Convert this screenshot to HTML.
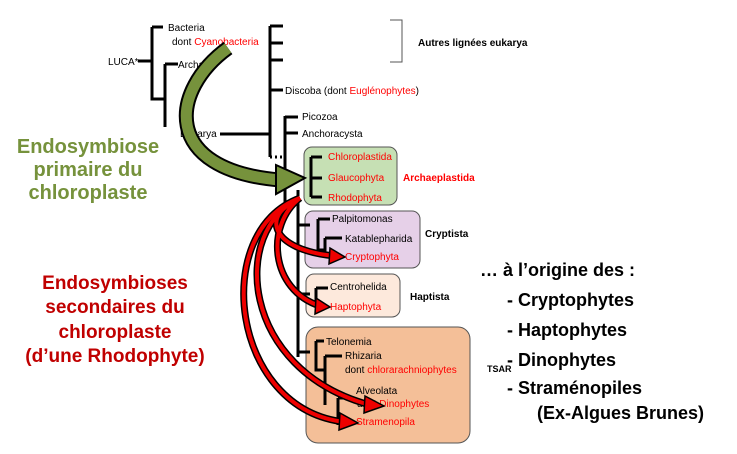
<!DOCTYPE html>
<html><head><meta charset="utf-8"><style>
body{margin:0;background:#fff}
svg{display:block;font-family:"Liberation Sans",sans-serif}
.t{font-size:10px;fill:#000}.r{fill:#f00}
.b{font-weight:bold}
</style></head><body>
<svg width="737" height="454" viewBox="0 0 737 454">
<rect x="304" y="147" width="93" height="58" rx="8" fill="#c6e0b4" stroke="#555"/>
<rect x="305" y="211" width="115" height="57" rx="8" fill="#e6d0e8" stroke="#555"/>
<rect x="306" y="274" width="94" height="43" rx="8" fill="#fde9dc" stroke="#555"/>
<rect x="306" y="327" width="164" height="116" rx="12" fill="#f4bf98" stroke="#555"/>
<g stroke="#000" stroke-width="3" fill="none">
<path d="M138 61H152M152 27V99H165M152 27H163M165 64V127M165 64H178M220 134H270M270 26V157M270 26H283M270 43H283M270 60H283M270 90H283"/>
<path d="M285 116V205M285 117H298M285 133H298M298 190V357M298 225H310M298 294H310M298 352H310"/>
<path d="M311 157V197M311 157H322M311 178H322M311 197H322"/>
<path d="M318 219V250H325M318 219H330M325 238V258M325 238H342"/>
<path d="M316 288V302H318M316 288H328"/>
<path d="M316 341V370H325M316 341H324M325 356V405M325 356H342M338 398V425M338 398H352"/>
</g>
<path d="M270 157H285" stroke="#000" stroke-width="3" stroke-dasharray="2 3"/>
<path d="M390 20H402V62H390" stroke="#555" stroke-width="1" fill="none"/>
<g class="t">
<text x="108" y="65" class="t">LUCA*</text>
<text x="168" y="31" class="t">Bacteria</text>
<text x="172" y="45" class="t">dont <tspan class="r">Cyanobacteria</tspan></text>
<text x="178" y="68" class="t">Archaea</text>
<text x="180" y="137" class="t">Eukarya</text>
<text x="285" y="94" class="t">Discoba (dont <tspan class="r">Euglénophytes</tspan>)</text>
<text x="302" y="120" class="t">Picozoa</text>
<text x="302" y="137" class="t">Anchoracysta</text>
<text x="418" y="46" class="t b">Autres lignées eukarya</text>
<text x="328" y="160" class="t r">Chloroplastida</text>
<text x="328" y="181" class="t r">Glaucophyta</text>
<text x="328" y="201" class="t r">Rhodophyta</text>
<text x="403" y="181" class="t r b">Archaeplastida</text>
<text x="332" y="222" class="t">Palpitomonas</text>
<text x="345" y="242" class="t">Katablepharida</text>
<text x="345" y="260" class="t r">Cryptophyta</text>
<text x="425" y="237" class="t b">Cryptista</text>
<text x="330" y="290" class="t">Centrohelida</text>
<text x="330" y="310" class="t r">Haptophyta</text>
<text x="410" y="300" class="t b">Haptista</text>
<text x="326" y="345" class="t">Telonemia</text>
<text x="345" y="359" class="t">Rhizaria</text>
<text x="345" y="373" class="t">dont <tspan class="r">chlorarachniophytes</tspan></text>
<text x="356" y="394" class="t">Alveolata</text>
<text x="357" y="407" class="t">dont <tspan class="r">Dinophytes</tspan></text>
<text x="356" y="425" class="t r">Stramenopila</text>
<text x="487" y="372" class="t b" style="font-size:9px">TSAR</text>
</g>
<g font-size="20" font-weight="bold" fill="#76923c" text-anchor="middle">
<text x="88" y="153">Endosymbiose</text><text x="88" y="176">primaire du</text><text x="88" y="199">chloroplaste</text>
</g>
<g font-size="19" font-weight="bold" fill="#c00000" text-anchor="middle">
<text x="115" y="289">Endosymbioses</text><text x="115" y="313">secondaires du</text><text x="115" y="338">chloroplaste</text><text x="115" y="362">(d’une Rhodophyte)</text>
</g>
<g font-size="18" font-weight="bold" fill="#000">
<text x="480" y="276">… à l’origine des :</text>
<text x="507" y="306">- Cryptophytes</text>
<text x="507" y="336">- Haptophytes</text>
<text x="507" y="366">- Dinophytes</text>
<text x="507" y="394">- Straménopiles</text>
<text x="537" y="419">(Ex-Algues Brunes)</text>
</g>
<g>
<path d="M228 48C170 90 160 170 280 180" stroke="#000" stroke-width="15" fill="none"/>
<path d="M228 48C170 90 160 170 280 180" stroke="#76923c" stroke-width="11" fill="none"/>
<polygon points="276,165 305,178 276,194" fill="#76923c" stroke="#000" stroke-width="2"/>
</g>
<g fill="none">
<g stroke="#000" stroke-width="7">
<path d="M300 198C260 215 270 250 335 256"/>
<path d="M300 198C265 225 270 290 320 306"/>
<path d="M300 198C230 230 240 370 370 405"/>
<path d="M300 198C210 230 230 410 345 422"/>
</g>
<g stroke="#e00" stroke-width="4">
<path d="M300 198C260 215 270 250 335 256"/>
<path d="M300 198C265 225 270 290 320 306"/>
<path d="M300 198C230 230 240 370 370 405"/>
<path d="M300 198C210 230 230 410 345 422"/>
</g>
<g fill="#e00" stroke="#000" stroke-width="1.5">
<polygon points="330,248 345,257 329,264"/>
<polygon points="316,298 330,307 315,314"/>
<polygon points="365,396 384,406 364,413"/>
<polygon points="340,413 358,423 339,430"/>
</g>
</g>
</svg>
</body></html>
